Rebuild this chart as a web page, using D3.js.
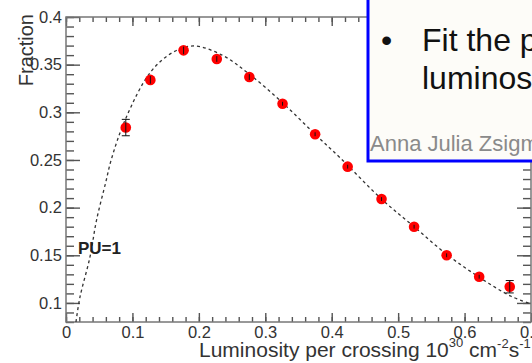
<!DOCTYPE html>
<html>
<head>
<meta charset="utf-8">
<script src="https://cdn.jsdelivr.net/npm/d3@7"></script>
<style>
  body { margin: 0; background: #fff; }
  svg { display: block; font-family: "Liberation Sans", Arial, sans-serif; }
</style>
</head>
<body>
<svg id="chart" width="532" height="363"></svg>
<script>
// measured points: luminosity per crossing, fraction, error
const lumi = [0.090, 0.127, 0.177, 0.227, 0.276, 0.326, 0.375, 0.424, 0.475, 0.524, 0.573, 0.622, 0.668];
const fraction = [0.284, 0.334, 0.365, 0.356, 0.337, 0.309, 0.277, 0.243, 0.209, 0.180, 0.150, 0.1275, 0.117];
const fracErr = [0.0086, 0.004, 0.004, 0.003, 0.003, 0.002, 0.002, 0.002, 0.002, 0.002, 0.002, 0.002, 0.0065];

// fit curve
const fitX = [0.015, 0.021, 0.036, 0.046, 0.060, 0.068, 0.089, 0.127, 0.161, 0.192, 0.235, 0.276, 0.326, 0.375, 0.413, 0.475, 0.524, 0.573, 0.622, 0.670, 0.700];
const fitY = [0.080, 0.106, 0.148, 0.187, 0.227, 0.250, 0.292, 0.342, 0.363, 0.3696, 0.360, 0.340, 0.310, 0.277, 0.252, 0.209, 0.180, 0.151, 0.127, 0.107, 0.099];

const xTicks = [0, 0.1, 0.2, 0.3, 0.4, 0.5, 0.6, 0.7];
const yTicks = [0.1, 0.15, 0.2, 0.25, 0.3, 0.35, 0.4];
const xMinor = d3.range(0, 0.701, 0.02);
const yMinor = d3.range(0.08, 0.4001, 0.01);

const svg = d3.select('#chart');
const m = {left: 66, right: 531, top: 17, bottom: 322};

const x = d3.scaleLinear().domain([0, 0.7]).range([m.left, m.right]);
const y = d3.scaleLinear().domain([0.08, 0.4]).range([m.bottom, m.top]);

const axisColor = '#555';
const fmt = d => d === 0 ? '0' : d3.format('')(+d.toFixed(2));

// minor ticks
svg.append('g').attr('transform', `translate(${m.left},0)`)
  .call(d3.axisLeft(y).tickValues(yMinor).tickSize(-8).tickFormat(''));
svg.append('g').attr('transform', `translate(${m.right},0)`)
  .call(d3.axisRight(y).tickValues(yMinor).tickSize(-8).tickFormat(''));
svg.append('g').attr('transform', `translate(0,${m.bottom})`)
  .call(d3.axisBottom(x).tickValues(xMinor).tickSize(-5).tickFormat(''));
svg.append('g').attr('transform', `translate(0,${m.top})`)
  .call(d3.axisTop(x).tickValues(xMinor).tickSize(-5).tickFormat(''));

// major ticks + labels
svg.append('g').attr('transform', `translate(${m.left},0)`)
  .call(d3.axisLeft(y).tickValues(yTicks).tickSize(-14).tickPadding(4).tickFormat(fmt));
svg.append('g').attr('transform', `translate(${m.right},0)`)
  .call(d3.axisRight(y).tickValues(yTicks).tickSize(-14).tickFormat(''));
svg.append('g').attr('transform', `translate(0,${m.bottom})`)
  .call(d3.axisBottom(x).tickValues(xTicks).tickSize(-9).tickPadding(4).tickFormat(fmt));
svg.append('g').attr('transform', `translate(0,${m.top})`)
  .call(d3.axisTop(x).tickValues(xTicks).tickSize(-9).tickFormat(''));

svg.selectAll('.domain').remove();
svg.selectAll('.tick line').attr('stroke', axisColor).attr('stroke-width', 1.4);
svg.selectAll('.tick text').attr('fill', '#333')
  .style('font-family', '"Liberation Sans", Arial, sans-serif')
  .style('font-size', '16.5px');

svg.append('rect')
  .attr('x', m.left).attr('y', m.top)
  .attr('width', m.right - m.left).attr('height', m.bottom - m.top)
  .attr('fill', 'none').attr('stroke', '#777').attr('stroke-width', 1.5);

// fit line
svg.append('clipPath').attr('id', 'plotclip')
  .append('rect').attr('x', m.left).attr('y', m.top)
  .attr('width', m.right - m.left).attr('height', m.bottom - m.top);

const fit = fitX.map((d, i) => ({x: d, y: fitY[i]}));
const line = d3.line().x(d => x(d.x)).y(d => y(d.y)).curve(d3.curveCatmullRom);
svg.append('path')
  .attr('clip-path', 'url(#plotclip)')
  .attr('d', line(fit))
  .attr('fill', 'none')
  .attr('stroke', '#333')
  .attr('stroke-width', 1.3)
  .attr('stroke-dasharray', '3,3');

// markers
const r = 5.3;
const pts = lumi.map((d, i) => ({x: d, y: fraction[i], e: fracErr[i]}));
svg.append('g').selectAll('circle').data(pts).enter().append('circle')
  .attr('cx', d => x(d.x)).attr('cy', d => y(d.y)).attr('r', r)
  .attr('fill', '#ff0000');

// error bars: thin line, caps only where the bar sticks out of the marker
const eb = svg.append('g').attr('stroke', '#111').attr('stroke-width', 1);
eb.selectAll('.bar').data(pts).enter().append('line')
  .attr('x1', d => x(d.x)).attr('x2', d => x(d.x))
  .attr('y1', d => y(d.y + d.e)).attr('y2', d => y(d.y - d.e));
const big = pts.filter(d => y(d.y - d.e) - y(d.y) > r);
eb.selectAll('.capt').data(big).enter().append('line')
  .attr('x1', d => x(d.x) - 4).attr('x2', d => x(d.x) + 4)
  .attr('y1', d => y(d.y + d.e)).attr('y2', d => y(d.y + d.e));
eb.selectAll('.capb').data(big).enter().append('line')
  .attr('x1', d => x(d.x) - 4).attr('x2', d => x(d.x) + 4)
  .attr('y1', d => y(d.y - d.e)).attr('y2', d => y(d.y - d.e));

// axis titles
svg.append('text')
  .attr('transform', 'translate(33,14) rotate(-90)')
  .attr('text-anchor', 'end')
  .attr('fill', '#333')
  .style('font-size', '20px')
  .text('Fraction');

const xt = svg.append('text')
  .attr('x', 199).attr('y', 357)
  .attr('fill', '#333')
  .style('font-size', '21px');
xt.append('tspan').text('Luminosity per crossing 10');
xt.append('tspan').attr('dy', -10).style('font-size', '13px').text('30');
xt.append('tspan').attr('dy', 10).text(' cm');
xt.append('tspan').attr('dy', -9).style('font-size', '13px').text('-2');
xt.append('tspan').attr('dy', 9).text('s');
xt.append('tspan').attr('dy', -9).style('font-size', '13px').text('-1');

svg.append('text')
  .attr('x', 78).attr('y', 254)
  .attr('fill', '#222')
  .style('font-size', '17px').style('font-weight', 'bold')
  .text('PU=1');

// overlaid slide box
svg.append('rect')
  .attr('x', 368).attr('y', -10)
  .attr('width', 200).attr('height', 171)
  .attr('fill', '#fdfcf8')
  .attr('stroke', '#0000ff').attr('stroke-width', 3);

svg.append('text').attr('x', 381).attr('y', 51)
  .attr('fill', '#111').style('font-size', '32px').text('•');
svg.append('text').attr('x', 422).attr('y', 51)
  .attr('fill', '#111').style('font-size', '32px').text('Fit the pileup');
svg.append('text').attr('x', 422).attr('y', 89)
  .attr('fill', '#111').style('font-size', '32px').text('luminosity');
svg.append('text').attr('x', 370).attr('y', 151)
  .attr('fill', '#8a8a8a').style('font-size', '22px').text('Anna Julia Zsigmond');
</script>
</body>
</html>
